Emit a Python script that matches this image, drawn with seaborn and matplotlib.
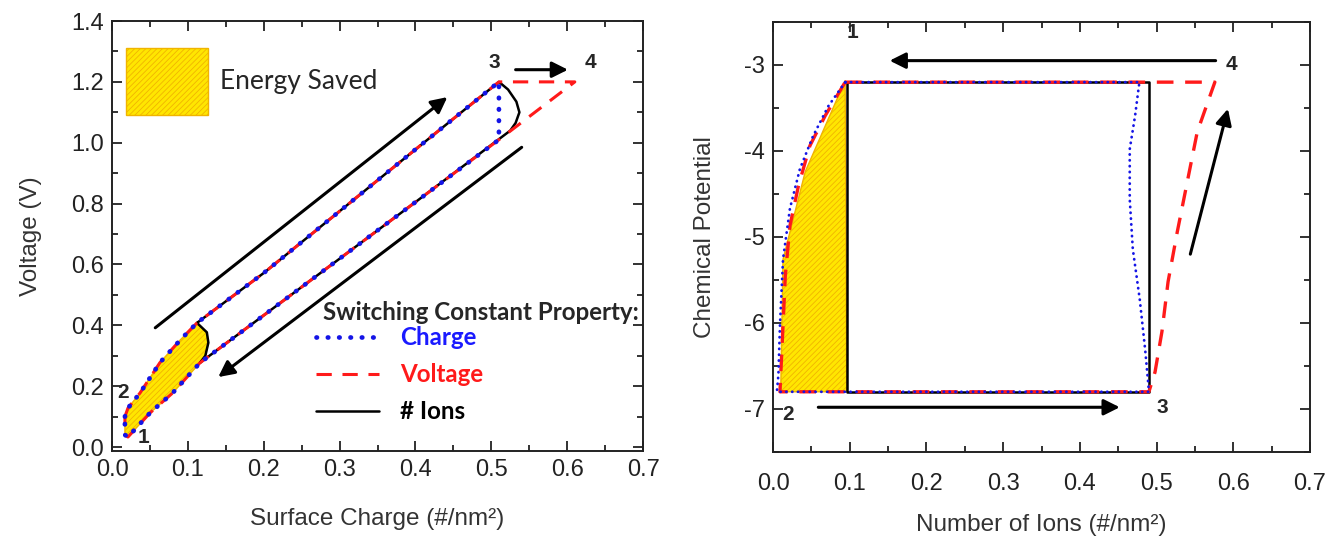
import matplotlib
matplotlib.use("Agg")
import matplotlib.pyplot as plt
import seaborn as sns
from matplotlib.ticker import MultipleLocator

# ---------------- left panel: voltage vs surface charge ----------------
charge_q = [0.017, 0.021, 0.037, 0.063, 0.090, 0.112, 0.20, 0.30, 0.40, 0.51,
            0.51, 0.40, 0.30, 0.20, 0.116, 0.080, 0.050, 0.021, 0.017, 0.017]
charge_v = [0.10, 0.128, 0.178, 0.277, 0.352, 0.408, 0.572, 0.775, 0.978, 1.20,
            1.01, 0.805, 0.619, 0.433, 0.277, 0.178, 0.112, 0.033, 0.04, 0.10]

voltage_q = [0.017, 0.021, 0.037, 0.063, 0.090, 0.112, 0.20, 0.30, 0.40, 0.51,
             0.61, 0.51, 0.40, 0.30, 0.20, 0.116, 0.080, 0.050, 0.021, 0.017, 0.017]
voltage_v = [0.10, 0.128, 0.178, 0.277, 0.352, 0.408, 0.572, 0.775, 0.978, 1.20,
             1.20, 1.01, 0.805, 0.619, 0.433, 0.277, 0.178, 0.112, 0.033, 0.04, 0.10]

ions_q = [0.112, 0.20, 0.30, 0.40, 0.51, 0.522, 0.533, 0.537, 0.532, 0.525,
          0.40, 0.30, 0.20, 0.116, 0.123, 0.127, 0.125, 0.112]
ions_v = [0.408, 0.572, 0.775, 0.978, 1.20, 1.175, 1.135, 1.10, 1.065, 1.04,
          0.805, 0.619, 0.433, 0.277, 0.30, 0.343, 0.377, 0.408]

saved_q = [0.017, 0.021, 0.037, 0.063, 0.090, 0.112, 0.125, 0.127, 0.123, 0.116,
           0.080, 0.050, 0.021, 0.017]
saved_v = [0.10, 0.128, 0.178, 0.277, 0.352, 0.408, 0.377, 0.343, 0.30, 0.277,
           0.178, 0.112, 0.033, 0.04]

# ---------------- right panel: chemical potential vs number of ions ----------------
ions_n = [0.096, 0.49, 0.49, 0.096, 0.096]
ions_mu = [-3.2, -3.2, -6.8, -6.8, -3.2]

voltage_n = [0.094, 0.576, 0.572, 0.553, 0.540, 0.527, 0.515, 0.507, 0.498, 0.49,
             0.009, 0.012, 0.016, 0.022, 0.033, 0.048, 0.068, 0.094]
voltage_mu = [-3.2, -3.2, -3.30, -3.78, -4.36, -4.94, -5.52, -6.10, -6.57, -6.8,
              -6.8, -6.22, -5.45, -4.87, -4.41, -3.94, -3.59, -3.2]

charge_n = [0.094, 0.478, 0.477, 0.472, 0.465, 0.465, 0.469, 0.478, 0.485, 0.489, 0.49,
            0.005, 0.007, 0.009, 0.013, 0.022, 0.035, 0.052, 0.072, 0.094]
charge_mu = [-3.2, -3.2, -3.24, -3.59, -3.98, -4.56, -5.14, -5.72, -6.30, -6.69, -6.8,
             -6.8, -6.6, -6.03, -5.26, -4.67, -4.21, -3.83, -3.48, -3.2]

saved_n = [0.010, 0.013, 0.042, 0.094, 0.096]
saved_mu = [-6.8, -5.26, -4.24, -3.18, -6.8]

BLUE = "#1414e6"
RED = "#ff1a1a"
FILL = "#ffe600"
HATCH = "#f0b400"

sns.set_style("ticks")
plt.rcParams["font.family"] = ["Liberation Sans", "DejaVu Sans"]
plt.rcParams["hatch.linewidth"] = 0.6
plt.rcParams["axes.linewidth"] = 1.4

fig = plt.figure(figsize=(13.4, 5.43), dpi=100)
ax1 = fig.add_axes([0.0836, 0.1694, 0.3963, 0.7919])
ax2 = fig.add_axes([0.5769, 0.1676, 0.4007, 0.792])


def style_axes(ax):
    ax.tick_params(which="both", direction="in", top=True, right=True,
                   width=1.3, colors="#222222", labelsize=17, pad=6)
    ax.tick_params(which="major", length=7)
    ax.tick_params(which="minor", length=4)
    for s in ax.spines.values():
        s.set_color("#222222")


def arrow(ax, start, end):
    ax.annotate("", xy=end, xytext=start,
                arrowprops=dict(arrowstyle="-|>", color="black", lw=2.2,
                                mutation_scale=24, shrinkA=0, shrinkB=0))


# ---- left panel ----
saved = ax1.fill(saved_q, saved_v, facecolor=FILL, edgecolor=HATCH,
                 hatch="//////", lw=1.0, zorder=1)[0]
sns.lineplot(x=ions_q, y=ions_v, sort=False, estimator=None, color="black",
             lw=1.8, ax=ax1, zorder=2)
h_ions = ax1.lines[-1]
sns.lineplot(x=voltage_q, y=voltage_v, sort=False, estimator=None, color=RED,
             lw=2.2, linestyle=(0, (5, 3.5)), ax=ax1, zorder=3)
h_volt = ax1.lines[-1]
sns.lineplot(x=charge_q, y=charge_v, sort=False, estimator=None, color=BLUE,
             lw=3.4, linestyle=(0, (0.1, 2.3)), dash_capstyle="round", ax=ax1, zorder=4)
h_charge = ax1.lines[-1]

ax1.set_xlim(0, 0.7)
ax1.set_ylim(-0.013, 1.4)
ax1.xaxis.set_major_locator(MultipleLocator(0.1))
ax1.xaxis.set_minor_locator(MultipleLocator(0.05))
ax1.yaxis.set_major_locator(MultipleLocator(0.2))
ax1.yaxis.set_minor_locator(MultipleLocator(0.1))
ax1.xaxis.set_major_formatter(lambda v, p: f"{v:.1f}")
ax1.yaxis.set_major_formatter(lambda v, p: f"{v:.1f}")
style_axes(ax1)
ax1.set_xlabel("Surface Charge (#/nm²)", fontsize=17.5, color="#333333", labelpad=19)
ax1.set_ylabel("Voltage (V)", fontsize=17.5, color="#333333", labelpad=21)

for txt, xy in [("1", (0.041, 0.03)), ("2", (0.014, 0.18)),
                ("3", (0.504, 1.265)), ("4", (0.631, 1.265))]:
    ax1.text(*xy, txt, fontsize=15, fontweight="bold", ha="center", va="center")

arrow(ax1, (0.057, 0.392), (0.442, 1.15))
arrow(ax1, (0.54, 0.985), (0.14, 0.23))
arrow(ax1, (0.532, 1.24), (0.601, 1.24))

leg_fill = ax1.legend([saved], ["Energy Saved"], loc="upper left",
                      bbox_to_anchor=(0.026, 0.938), frameon=False,
                      handlelength=3.1, handleheight=3.53, handletextpad=0.45,
                      borderaxespad=0, borderpad=0,
                      prop={"family": "Lato", "size": 19})
ax1.add_artist(leg_fill)

ax1.text(0.397, 0.323, "Switching Constant Property:", transform=ax1.transAxes,
         family="Lato", fontsize=17.4, fontweight="bold", va="center", ha="left")
leg = ax1.legend([h_charge, h_volt, h_ions], ["Charge", "Voltage", "# Ions"],
                 loc="upper left", bbox_to_anchor=(0.385, 0.29), frameon=False,
                 handlelength=2.6, handletextpad=0.85, labelspacing=0.58,
                 borderaxespad=0, borderpad=0, labelcolor=["#1a1aff", RED, "black"],
                 prop={"family": "Lato", "size": 17.4, "weight": "bold"})

# ---- right panel ----
ax2.fill(saved_n, saved_mu, facecolor=FILL, edgecolor=HATCH,
         hatch="//////", lw=1.0, zorder=1)
sns.lineplot(x=ions_n, y=ions_mu, sort=False, estimator=None, color="black",
             lw=1.8, ax=ax2, zorder=2)
sns.lineplot(x=voltage_n, y=voltage_mu, sort=False, estimator=None, color=RED,
             lw=2.4, linestyle=(0, (5, 3.5)), ax=ax2, zorder=3)
sns.lineplot(x=charge_n, y=charge_mu, sort=False, estimator=None, color=BLUE,
             lw=2.0, linestyle=(0, (0.1, 2.0)), dash_capstyle="round", ax=ax2, zorder=4)

ax2.set_xlim(0, 0.7)
ax2.set_ylim(-7.5, -2.5)
ax2.xaxis.set_major_locator(MultipleLocator(0.1))
ax2.xaxis.set_minor_locator(MultipleLocator(0.05))
ax2.yaxis.set_major_locator(MultipleLocator(1))
ax2.yaxis.set_minor_locator(MultipleLocator(0.5))
ax2.xaxis.set_major_formatter(lambda v, p: f"{v:.1f}")
ax2.yaxis.set_major_formatter(lambda v, p: f"{v:.0f}")
style_axes(ax2)
ax2.tick_params(axis="x", pad=15)
ax2.set_xlabel("Number of Ions (#/nm²)", fontsize=17.5, color="#333333", labelpad=14)
ax2.set_ylabel("Chemical Potential", fontsize=17.5, color="#333333", labelpad=20)

for txt, xy in [("1", (0.103, -2.62)), ("2", (0.02, -7.06)),
                ("3", (0.508, -6.98)), ("4", (0.598, -3.0))]:
    ax2.text(*xy, txt, fontsize=15, fontweight="bold", ha="center", va="center")

arrow(ax2, (0.577, -2.95), (0.152, -2.95))
arrow(ax2, (0.059, -6.98), (0.452, -6.98))
arrow(ax2, (0.544, -5.2), (0.593, -3.51))

fig.savefig("out.png", dpi=100)
